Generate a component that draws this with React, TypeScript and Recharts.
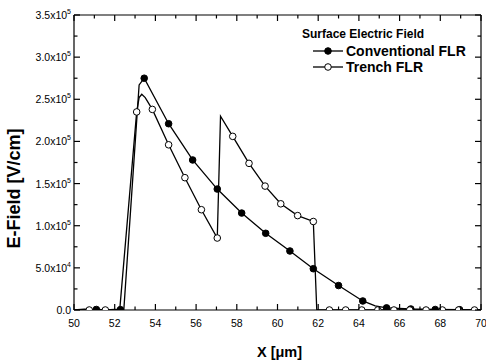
import { ComposedChart, Line, XAxis, YAxis, Legend, ReferenceLine } from 'recharts';

// Conventional FLR, E in units of 1e5 V/cm; mark = 1 where a symbol is drawn
const convX = [50, 50.5, 51.1, 51.7, 52.28, 52.45, 53.2, 53.45, 54.65, 55.83, 57.04, 58.24, 59.42, 60.61, 61.76, 63.0, 64.19, 64.8, 65.36, 66.55, 67.75, 68.95, 70];
const convE = [0, 0.01, 0.006, 0, 0.004, 0.01, 2.67, 2.75, 2.21, 1.78, 1.435, 1.15, 0.91, 0.7, 0.49, 0.29, 0.107, 0.05, 0.025, 0.012, 0.006, 0.003, 0];
const convMark = [0, 0, 1, 0, 1, 0, 0, 1, 1, 1, 1, 1, 1, 1, 1, 1, 1, 0, 1, 1, 1, 1, 0];

// Trench FLR
const trenchX = [50, 50.75, 51.54, 52.25, 53.08, 53.2, 53.33, 53.5, 53.85, 54.65, 55.45, 56.26, 57.04, 57.2, 57.8, 58.6, 59.39, 60.16, 60.99, 61.76, 61.93, 62.55, 63.35, 64.14, 64.93, 65.72, 66.5, 67.3, 68.1, 68.9, 69.68, 70];
const trenchE = [0, 0, 0, 0.01, 2.35, 2.52, 2.56, 2.52, 2.38, 1.96, 1.57, 1.19, 0.854, 2.3, 2.06, 1.74, 1.47, 1.26, 1.12, 1.05, 0, 0, 0, 0, 0, 0, 0, 0, 0, 0, 0, 0];
const trenchMark = [0, 1, 1, 0, 1, 0, 0, 0, 1, 1, 1, 1, 1, 0, 1, 1, 1, 1, 1, 1, 0, 1, 1, 1, 1, 1, 1, 1, 1, 1, 1, 0];

const xTicks = [50, 52, 54, 56, 58, 60, 62, 64, 66, 68, 70];
const xMinorTicks = [51, 53, 55, 57, 59, 61, 63, 65, 67, 69];
const yTicks = [0, 50000, 100000, 150000, 200000, 250000, 300000, 350000];
const yMinorTicks = [25000, 75000, 125000, 175000, 225000, 275000, 325000];

const legendTitle = 'Surface Electric Field';
const seriesNames = ['Conventional FLR', 'Trench FLR'];

const conv = convX.map((x, i) => ({ x, e: convE[i] * 1e5, m: convMark[i] }));
const trench = trenchX.map((x, i) => ({ x, e: trenchE[i] * 1e5, m: trenchMark[i] }));

const allXTicks = [...xTicks, ...xMinorTicks].sort((a, b) => a - b);
const allYTicks = [...yTicks, ...yMinorTicks].sort((a, b) => a - b);

const W = 486;
const H = 360;
const margin = { top: 15, right: 5, left: 0, bottom: 0 };
const yAxisWidth = 74;
const xAxisHeight = 50;
// plot box edges, used to mirror the tick marks onto the top and right sides
const plot = {
  left: margin.left + yAxisWidth,
  right: W - margin.right,
  top: margin.top,
  bottom: H - margin.bottom - xAxisHeight,
};

const FONT = '"Liberation Sans", Arial, sans-serif';

const makeDot = (filled: boolean) => (props: any) => {
  const { cx, cy, payload, index } = props;
  if (!payload.m) return <g key={index} />;
  return (
    <circle key={index} cx={cx} cy={cy} r={3.3} fill={filled ? '#000' : '#fff'} stroke="#000" strokeWidth={1} />
  );
};

// inward tick marks on bottom and top, label only on the major ones
const XTick = ({ x, payload }: any) => {
  const major = xTicks.includes(payload.value);
  const len = major ? 6 : 3.5;
  return (
    <g>
      <line x1={x} x2={x} y1={plot.bottom} y2={plot.bottom - len} stroke="#000" strokeWidth={1.2} />
      <line x1={x} x2={x} y1={plot.top} y2={plot.top + len} stroke="#000" strokeWidth={1.2} />
      {major && (
        <text x={x} y={plot.bottom} dy={17} textAnchor="middle" fontSize={10.5} fontFamily={FONT} fill="#000">
          {payload.value}
        </text>
      )}
    </g>
  );
};

const YTick = ({ x, y, payload }: any) => {
  const v = payload.value;
  const major = yTicks.includes(v);
  const len = major ? 6 : 3.5;
  let label = null;
  if (major && v === 0) {
    label = (
      <text x={x} y={y} dy={4} textAnchor="end" fontSize={10.5} fontFamily={FONT} fill="#000">
        0.0
      </text>
    );
  } else if (major) {
    const exp = Math.floor(Math.log10(v));
    const mant = (v / Math.pow(10, exp)).toFixed(1);
    label = (
      <text x={x} y={y} dy={4} textAnchor="end" fontSize={10.5} fontFamily={FONT} fill="#000">
        {mant}x10
        <tspan dy={-5} fontSize={7}>{exp}</tspan>
      </text>
    );
  }
  return (
    <g>
      <line x1={plot.left} x2={plot.left + len} y1={y} y2={y} stroke="#000" strokeWidth={1.2} />
      <line x1={plot.right} x2={plot.right - len} y1={y} y2={y} stroke="#000" strokeWidth={1.2} />
      {label}
    </g>
  );
};

const LegendBox = () => (
  <div style={{ fontFamily: FONT, fontWeight: 'bold', color: '#000' }}>
    <div style={{ fontSize: 12, lineHeight: '17px' }}>{legendTitle}</div>
    {seriesNames.map((name, i) => (
      <div key={name} style={{ display: 'flex', alignItems: 'center', height: 16, lineHeight: '16px', marginLeft: 11 }}>
        <svg width={30} height={10} style={{ marginRight: 3 }}>
          <line x1={0} y1={5} x2={30} y2={5} stroke="#000" strokeWidth={1.3} />
          <circle cx={15} cy={5} r={3.3} fill={i === 0 ? '#000' : '#fff'} stroke="#000" strokeWidth={1} />
        </svg>
        <span style={{ fontSize: 14 }}>{name}</span>
      </div>
    ))}
  </div>
);

const axisStroke = { stroke: '#000', strokeWidth: 1.2 };

export default function App() {
  return (
    <div style={{ position: 'absolute', left: 0, top: 0, width: W, height: H, background: '#fff' }}>
      <ComposedChart width={W} height={H} margin={margin}>
        <XAxis
          dataKey="x"
          type="number"
          domain={[50, 70]}
          ticks={allXTicks}
          interval={0}
          allowDataOverflow
          height={xAxisHeight}
          tickLine={false}
          tickSize={0}
          tickMargin={0}
          axisLine={axisStroke}
          tick={<XTick />}
          label={({ viewBox }: any) => (
            <text
              x={viewBox.x + viewBox.width / 2 + 2}
              y={viewBox.y + 47}
              textAnchor="middle"
              fontSize={14.5}
              fontWeight="bold"
              fontFamily={FONT}
              fill="#000"
            >
              X [μm]
            </text>
          )}
        />
        <YAxis
          type="number"
          domain={[0, 350000]}
          ticks={allYTicks}
          interval={0}
          allowDataOverflow
          width={yAxisWidth}
          tickLine={false}
          tickSize={0}
          tickMargin={3}
          axisLine={axisStroke}
          tick={<YTick />}
          label={({ viewBox }: any) => (
            <text
              transform={`translate(${viewBox.x + 20}, ${viewBox.y + viewBox.height / 2 + 26}) rotate(-90)`}
              textAnchor="middle"
              fontSize={18}
              fontWeight="bold"
              fontFamily={FONT}
              fill="#000"
            >
              E-Field [V/cm]
            </text>
          )}
        />
        <ReferenceLine y={350000} stroke="#000" strokeWidth={1.2} />
        <ReferenceLine x={70} stroke="#000" strokeWidth={1.2} />
        <Legend
          layout="vertical"
          align="center"
          verticalAlign="middle"
          content={<LegendBox />}
          wrapperStyle={{ position: 'absolute', left: 302, top: 26, width: 180 }}
        />
        <Line
          data={conv}
          dataKey="e"
          name={seriesNames[0]}
          type="linear"
          stroke="#000"
          strokeWidth={1.3}
          dot={makeDot(true)}
          activeDot={false}
          isAnimationActive={false}
        />
        <Line
          data={trench}
          dataKey="e"
          name={seriesNames[1]}
          type="linear"
          stroke="#000"
          strokeWidth={1.3}
          dot={makeDot(false)}
          activeDot={false}
          isAnimationActive={false}
        />
      </ComposedChart>
    </div>
  );
}
